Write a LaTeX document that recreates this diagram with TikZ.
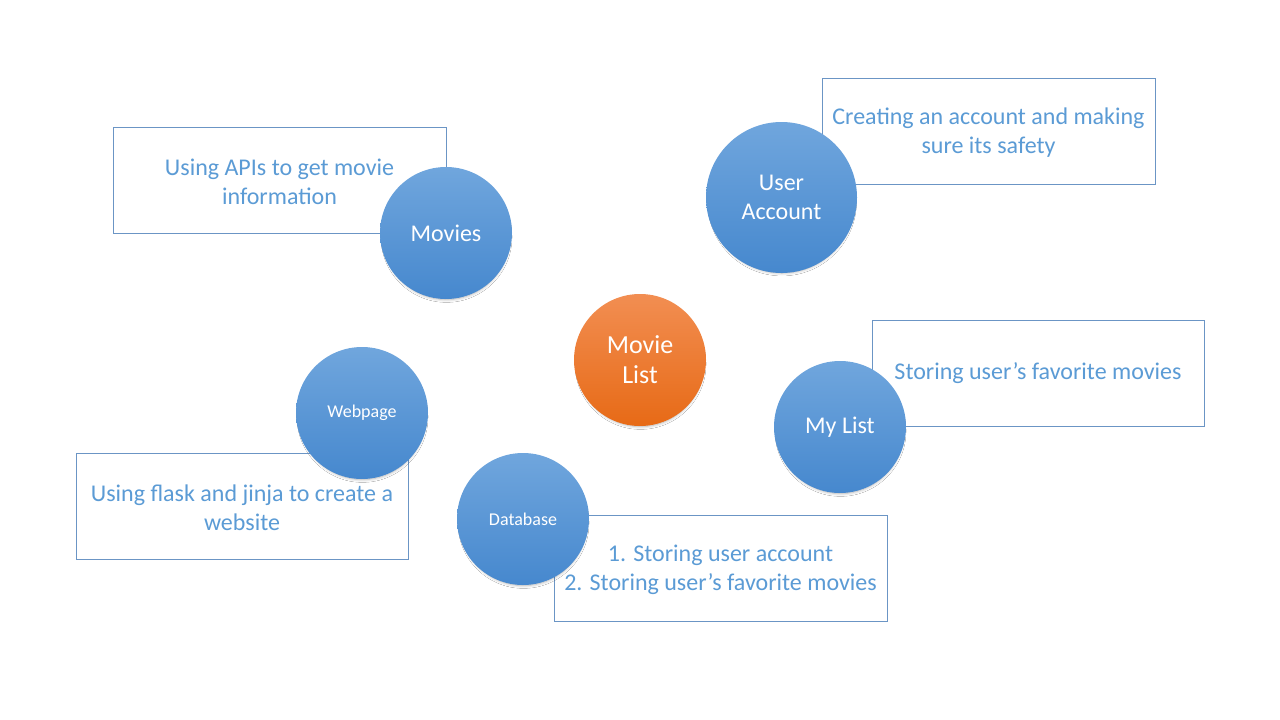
\documentclass[tikz,border=0pt]{standalone}
\usepackage{fontspec}
\setmainfont{Carlito}
\usetikzlibrary{shadows.blur}
\definecolor{txtblue}{HTML}{5B9BD5}
\definecolor{linblue}{HTML}{6B95C5}
\definecolor{ctop}{HTML}{70A6DD}
\definecolor{cbot}{HTML}{4688CE}
\definecolor{otop}{HTML}{F28E52}
\definecolor{obot}{HTML}{E76A16}
\tikzset{
  infobox/.style={draw=linblue, line width=1pt, fill=white, rectangle, inner sep=0pt,
    minimum width=333pt, minimum height=106pt, align=center, text=txtblue,
    font=\fontsize{24}{29}\selectfont},
  bubble/.style={circle, inner sep=0pt, minimum size=132pt, align=center, text=white,
    top color=ctop, bottom color=cbot, shading angle=0,
    blur shadow={shadow xshift=0.5pt, shadow yshift=-4pt, shadow scale=0.95, shadow blur steps=8, shadow blur radius=3pt, shadow opacity=30},
    font=\fontsize{24}{29}\selectfont},
  smallbubble/.style={bubble, font=\fontsize{18}{22}\selectfont},
  hub/.style={bubble, top color=otop, bottom color=obot, font=\fontsize{26}{30}\selectfont}
}
\begin{document}
\begin{tikzpicture}[x=1pt,y=-1pt]
\useasboundingbox (0,0) rectangle (1280,720);
\fill[white] (0,0) rectangle (1280,720);
% boxes
\node[infobox] (bmov) at (279.5,180) {\strut Using APIs to get movie\\information};
\node[infobox] (buser) at (988.5,131) {\strut Creating an account and making\\sure its safety};
\node[infobox, minimum width=332pt] (blist) at (1038,373) {\raisebox{-2pt}{Storing user’s favorite movies}};
\node[infobox, minimum width=332pt] (bweb) at (242,506) {\strut Using flask and jinja to create a\\website};
\node[infobox] (bdb) at (720.5,568) {\strut 1. Storing user account\\2. Storing user’s favorite movies};
% circles
\node[bubble] (movies) at (446,233) {Movies};
\node[bubble, minimum size=151pt] (user) at (781.5,197.5) {User\\Account};
\node[hub] (hubn) at (640,360) {Movie\\List};
\node[bubble] (mylist) at (840,427) {\raisebox{-2pt}{My List}};
\node[smallbubble] (web) at (362,413) {\raisebox{-1pt}{Webpage}};
\node[smallbubble] (db) at (523,519) {Database};
\end{tikzpicture}
\end{document}
